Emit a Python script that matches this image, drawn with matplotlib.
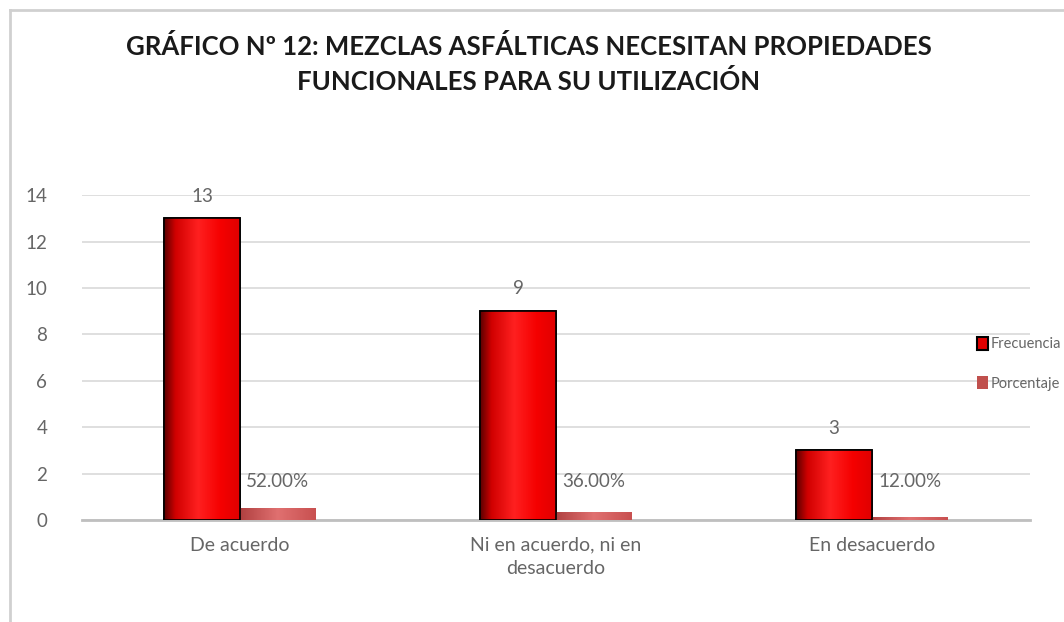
import numpy as np
import matplotlib
matplotlib.use('Agg')
import matplotlib.pyplot as plt
from matplotlib.colors import LinearSegmentedColormap
from matplotlib.patches import Rectangle

plt.rcParams['font.family'] = ['Lato', 'DejaVu Sans']

categorias = ['De acuerdo', 'Ni en acuerdo, ni en\ndesacuerdo', 'En desacuerdo']
frecuencia = [13, 9, 3]
porcentaje = [0.52, 0.36, 0.12]
etiquetas_pct = ['52.00%', '36.00%', '12.00%']
titulo = 'GRÁFICO Nº 12: MEZCLAS ASFÁLTICAS NECESITAN PROPIEDADES\nFUNCIONALES PARA SU UTILIZACIÓN'

gris = '#666666'
rojo_cmap = LinearSegmentedColormap.from_list(
    'rojo', [(0, '#5a0000'), (0.15, '#d00000'), (0.45, '#ff2020'), (0.75, '#f50000'), (1, '#e00000')])
pct_cmap = LinearSegmentedColormap.from_list('pct', ['#b04040', '#e07070', '#c85050'])

fig = plt.figure(figsize=(10.64, 6.22), dpi=100)
ax = fig.add_axes([0.077, 0.164, 0.891, 0.522])

x = np.arange(len(categorias))
w = 0.24
grad = np.linspace(0, 1, 256).reshape(1, -1)

barras_f = ax.bar(x - w / 2, frecuencia, w, color='#ff0000', edgecolor='black', linewidth=1.2,
                  label='Frecuencia', zorder=3)
barras_p = ax.bar(x + w / 2, porcentaje, w, color='#c0504d', edgecolor='none',
                  label='Porcentaje', zorder=3)

# sombreado tipo cilindro
for b in barras_f:
    im = ax.imshow(grad, cmap=rojo_cmap, aspect='auto', zorder=3.5,
                   extent=[b.get_x(), b.get_x() + b.get_width(), 0, b.get_height()])
    im.set_clip_path(b)
    ax.add_patch(Rectangle((b.get_x(), 0), b.get_width(), b.get_height(), fill=False,
                           edgecolor='black', linewidth=1.2, zorder=4))
for b in barras_p:
    im = ax.imshow(grad, cmap=pct_cmap, aspect='auto', zorder=3.5,
                   extent=[b.get_x(), b.get_x() + b.get_width(), 0, b.get_height()])
    im.set_clip_path(b)

for b, v in zip(barras_f, frecuencia):
    ax.text(b.get_x() + b.get_width() / 2, v + 0.6, str(v), ha='center', va='bottom',
            fontsize=13.5, color=gris)
for b, t in zip(barras_p, etiquetas_pct):
    ax.text(b.get_x() + b.get_width() / 2, 1.3, t, ha='center', va='bottom',
            fontsize=13.5, color=gris)

ax.set_xlim(-0.5, 2.5)
ax.set_ylim(0, 14)
ax.set_yticks(range(0, 15, 2))
ax.set_xticks(x)
ax.set_xticklabels(categorias, fontsize=14, color=gris, linespacing=1.45)
ax.tick_params(axis='y', labelsize=13.5, labelcolor=gris, length=0, pad=25)
ax.tick_params(axis='x', length=0, pad=12)
ax.grid(axis='y', color='#d9d9d9', linewidth=1.2, zorder=0)
ax.set_axisbelow(True)
for s in ['top', 'right', 'left']:
    ax.spines[s].set_visible(False)
ax.spines['bottom'].set_color('#bfbfbf')
ax.spines['bottom'].set_linewidth(2)

h1 = Rectangle((0, 0), 1, 1, facecolor='#e00000', edgecolor='black', linewidth=1.5)
h2 = Rectangle((0, 0), 1, 1, facecolor='#c0504d', edgecolor='none')
fig.legend([h1, h2], ['Frecuencia', 'Porcentaje'], loc='center left',
           bbox_to_anchor=(0.918, 0.415), frameon=False, fontsize=10.5,
           labelcolor=gris, handlelength=0.8, handleheight=1.0, handletextpad=0.15,
           labelspacing=1.7, borderaxespad=0, borderpad=0)

fig.text(0.497, 0.945, titulo, ha='center', va='top', fontsize=18.5, fontweight='bold',
         color='#1a1a1a', linespacing=1.45)

# marco del grafico
fig.add_artist(plt.Line2D([0.0095, 0.0095], [0, 0.984], color='#d0d0d0', linewidth=2))
fig.add_artist(plt.Line2D([0.0095, 1], [0.984, 0.984], color='#d0d0d0', linewidth=2))

fig.savefig('out.png', dpi=100, facecolor='white')
